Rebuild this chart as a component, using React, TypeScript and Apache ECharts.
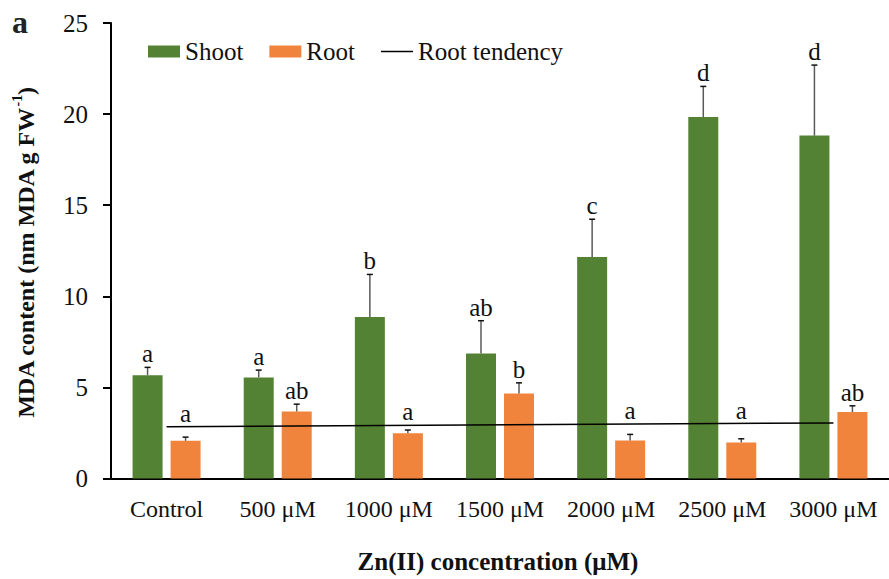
import React, { useEffect, useRef } from "react";
import * as echarts from "echarts";

// Treatments on the x axis
const categories = ["Control", "500 μM", "1000 μM", "1500 μM", "2000 μM", "2500 μM", "3000 μM"];

// MDA content, nm MDA g FW-1
const shootValues = [5.67, 5.55, 8.87, 6.86, 12.16, 19.84, 18.82];
const shootErrors = [0.43, 0.4, 2.33, 1.8, 2.07, 1.68, 3.87];
const shootLetters = ["a", "a", "b", "ab", "c", "d", "d"];

const rootValues = [2.07, 3.68, 2.48, 4.67, 2.09, 1.98, 3.65];
const rootErrors = [0.2, 0.4, 0.18, 0.58, 0.33, 0.2, 0.34];
const rootLetters = ["a", "ab", "a", "b", "a", "a", "ab"];

// Linear trend of the root values, drawn from the first to the last treatment
const rootTendency = [2.84, null, null, null, null, null, 3.05];

const yTicks = { min: 0, max: 25, interval: 5 };

const FONT = "'Liberation Serif', 'Times New Roman', serif";
const GREEN = "#548235";
const ORANGE = "#F0843C";
const BAR_WIDTH = 30;
const BAR_GAP = 8;

// thin horizontal stroke for the tendency entry of the legend
const LINE_ICON = "path://M0,0 M0,5.3 L32,5.3 L32,6.7 L0,6.7 Z M32,12";

// value of the tendency line at category i (for keeping letters clear of it)
function tendencyAt(i: number): number {
  const a = rootTendency[0] as number;
  const b = rootTendency[rootTendency.length - 1] as number;
  return a + ((b - a) * i) / (rootTendency.length - 1);
}

function errorSeries(
  name: string,
  values: number[],
  errors: number[],
  letters: string[],
  offset: number,
  avoidTendency: boolean
) {
  return {
    type: "custom",
    name: name + " error",
    silent: true,
    z: 5,
    data: values.map((v, i) => [i, v, v + errors[i]]),
    renderItem: (params: any, api: any) => {
      const i = api.value(0);
      const v = api.value(1);
      const hi = api.value(2);
      const x = api.coord([i, 0])[0] + offset;
      const yBase = api.coord([i, v])[1];
      const yTop = api.coord([i, hi])[1];
      const anchor = avoidTendency ? Math.max(hi, tendencyAt(i)) : hi;
      const yLabel = api.coord([i, anchor])[1];
      return {
        type: "group",
        children: [
          {
            type: "line",
            shape: { x1: x, y1: yBase, x2: x, y2: yTop },
            style: { stroke: "#5a5a5a", lineWidth: 1.5 },
          },
          {
            type: "line",
            shape: { x1: x - 3, y1: yTop, x2: x + 3, y2: yTop },
            style: { stroke: "#111", lineWidth: 1.5 },
          },
          {
            type: "text",
            x: x,
            y: yLabel - 1,
            style: {
              text: letters[params.dataIndex],
              fill: "#111",
              font: `25px ${FONT}`,
              align: "center",
              verticalAlign: "bottom",
            },
          },
        ],
      };
    },
  };
}

export default function App() {
  const ref = useRef<HTMLDivElement>(null);

  useEffect(() => {
    if (!ref.current) return;
    const chart = echarts.init(ref.current, null, { renderer: "svg" });
    const half = (BAR_WIDTH + BAR_GAP) / 2;

    chart.setOption({
      animation: false,
      backgroundColor: "#fff",
      textStyle: { fontFamily: FONT },
      grid: { left: 111, top: 23, width: 783, height: 455.5, containLabel: false },
      legend: {
        left: 143,
        top: 34,
        itemWidth: 32,
        itemHeight: 12,
        itemGap: 26,
        data: [
          { name: "Shoot", icon: "rect" },
          { name: "Root", icon: "rect" },
          { name: "Root tendency", icon: LINE_ICON, itemStyle: { color: "#000" } },
        ],
        textStyle: { fontFamily: FONT, fontSize: 25, color: "#111" },
      },
      xAxis: {
        type: "category",
        data: categories,
        axisLine: { lineStyle: { color: "#000", width: 2 } },
        axisTick: { show: false },
        axisLabel: { interval: 0, fontFamily: FONT, fontSize: 24, color: "#111", margin: 18 },
      },
      yAxis: {
        type: "value",
        min: yTicks.min,
        max: yTicks.max,
        interval: yTicks.interval,
        splitLine: { show: false },
        axisLine: { show: true, lineStyle: { color: "#000", width: 2 } },
        axisTick: { show: true, length: 8, lineStyle: { color: "#000", width: 2 } },
        axisLabel: { fontFamily: FONT, fontSize: 25, color: "#111", margin: 23 },
      },
      series: [
        {
          type: "bar",
          name: "Shoot",
          data: shootValues,
          barWidth: BAR_WIDTH,
          barGap: `${(BAR_GAP / BAR_WIDTH) * 100}%`,
          itemStyle: { color: GREEN },
        },
        {
          type: "bar",
          name: "Root",
          data: rootValues,
          barWidth: BAR_WIDTH,
          itemStyle: { color: ORANGE },
        },
        {
          type: "line",
          name: "Root tendency",
          data: rootTendency,
          connectNulls: true,
          symbol: "none",
          showSymbol: false,
          z: 4,
          lineStyle: { color: "#000", width: 1.5 },
          itemStyle: { color: "#000" },
        },
        errorSeries("Shoot", shootValues, shootErrors, shootLetters, -half, false),
        errorSeries("Root", rootValues, rootErrors, rootLetters, half, true),
      ],
      graphic: [
        {
          type: "text",
          left: 12,
          top: 6,
          style: { text: "a", font: `bold 32px ${FONT}`, fill: "#222" },
        },
        {
          type: "text",
          x: 24,
          y: 253,
          rotation: Math.PI / 2,
          style: {
            text: "{t|MDA content (nm MDA g FW}{s|-1}{t|)}",
            align: "center",
            verticalAlign: "middle",
            rich: {
              t: { font: `bold 24px ${FONT}`, fill: "#111", lineHeight: 28, verticalAlign: "bottom" },
              s: { font: `bold 14px ${FONT}`, fill: "#111", lineHeight: 28, verticalAlign: "top" },
            },
          },
        },
        {
          type: "text",
          x: 498,
          y: 561,
          style: {
            text: "Zn(II) concentration (μM)",
            font: `bold 25px ${FONT}`,
            fill: "#111",
            align: "center",
            verticalAlign: "middle",
          },
        },
      ],
    });

    return () => chart.dispose();
  }, []);

  return (
    <div
      ref={ref}
      style={{ position: "fixed", left: 0, top: 0, width: 889, height: 579, background: "#fff" }}
    />
  );
}
